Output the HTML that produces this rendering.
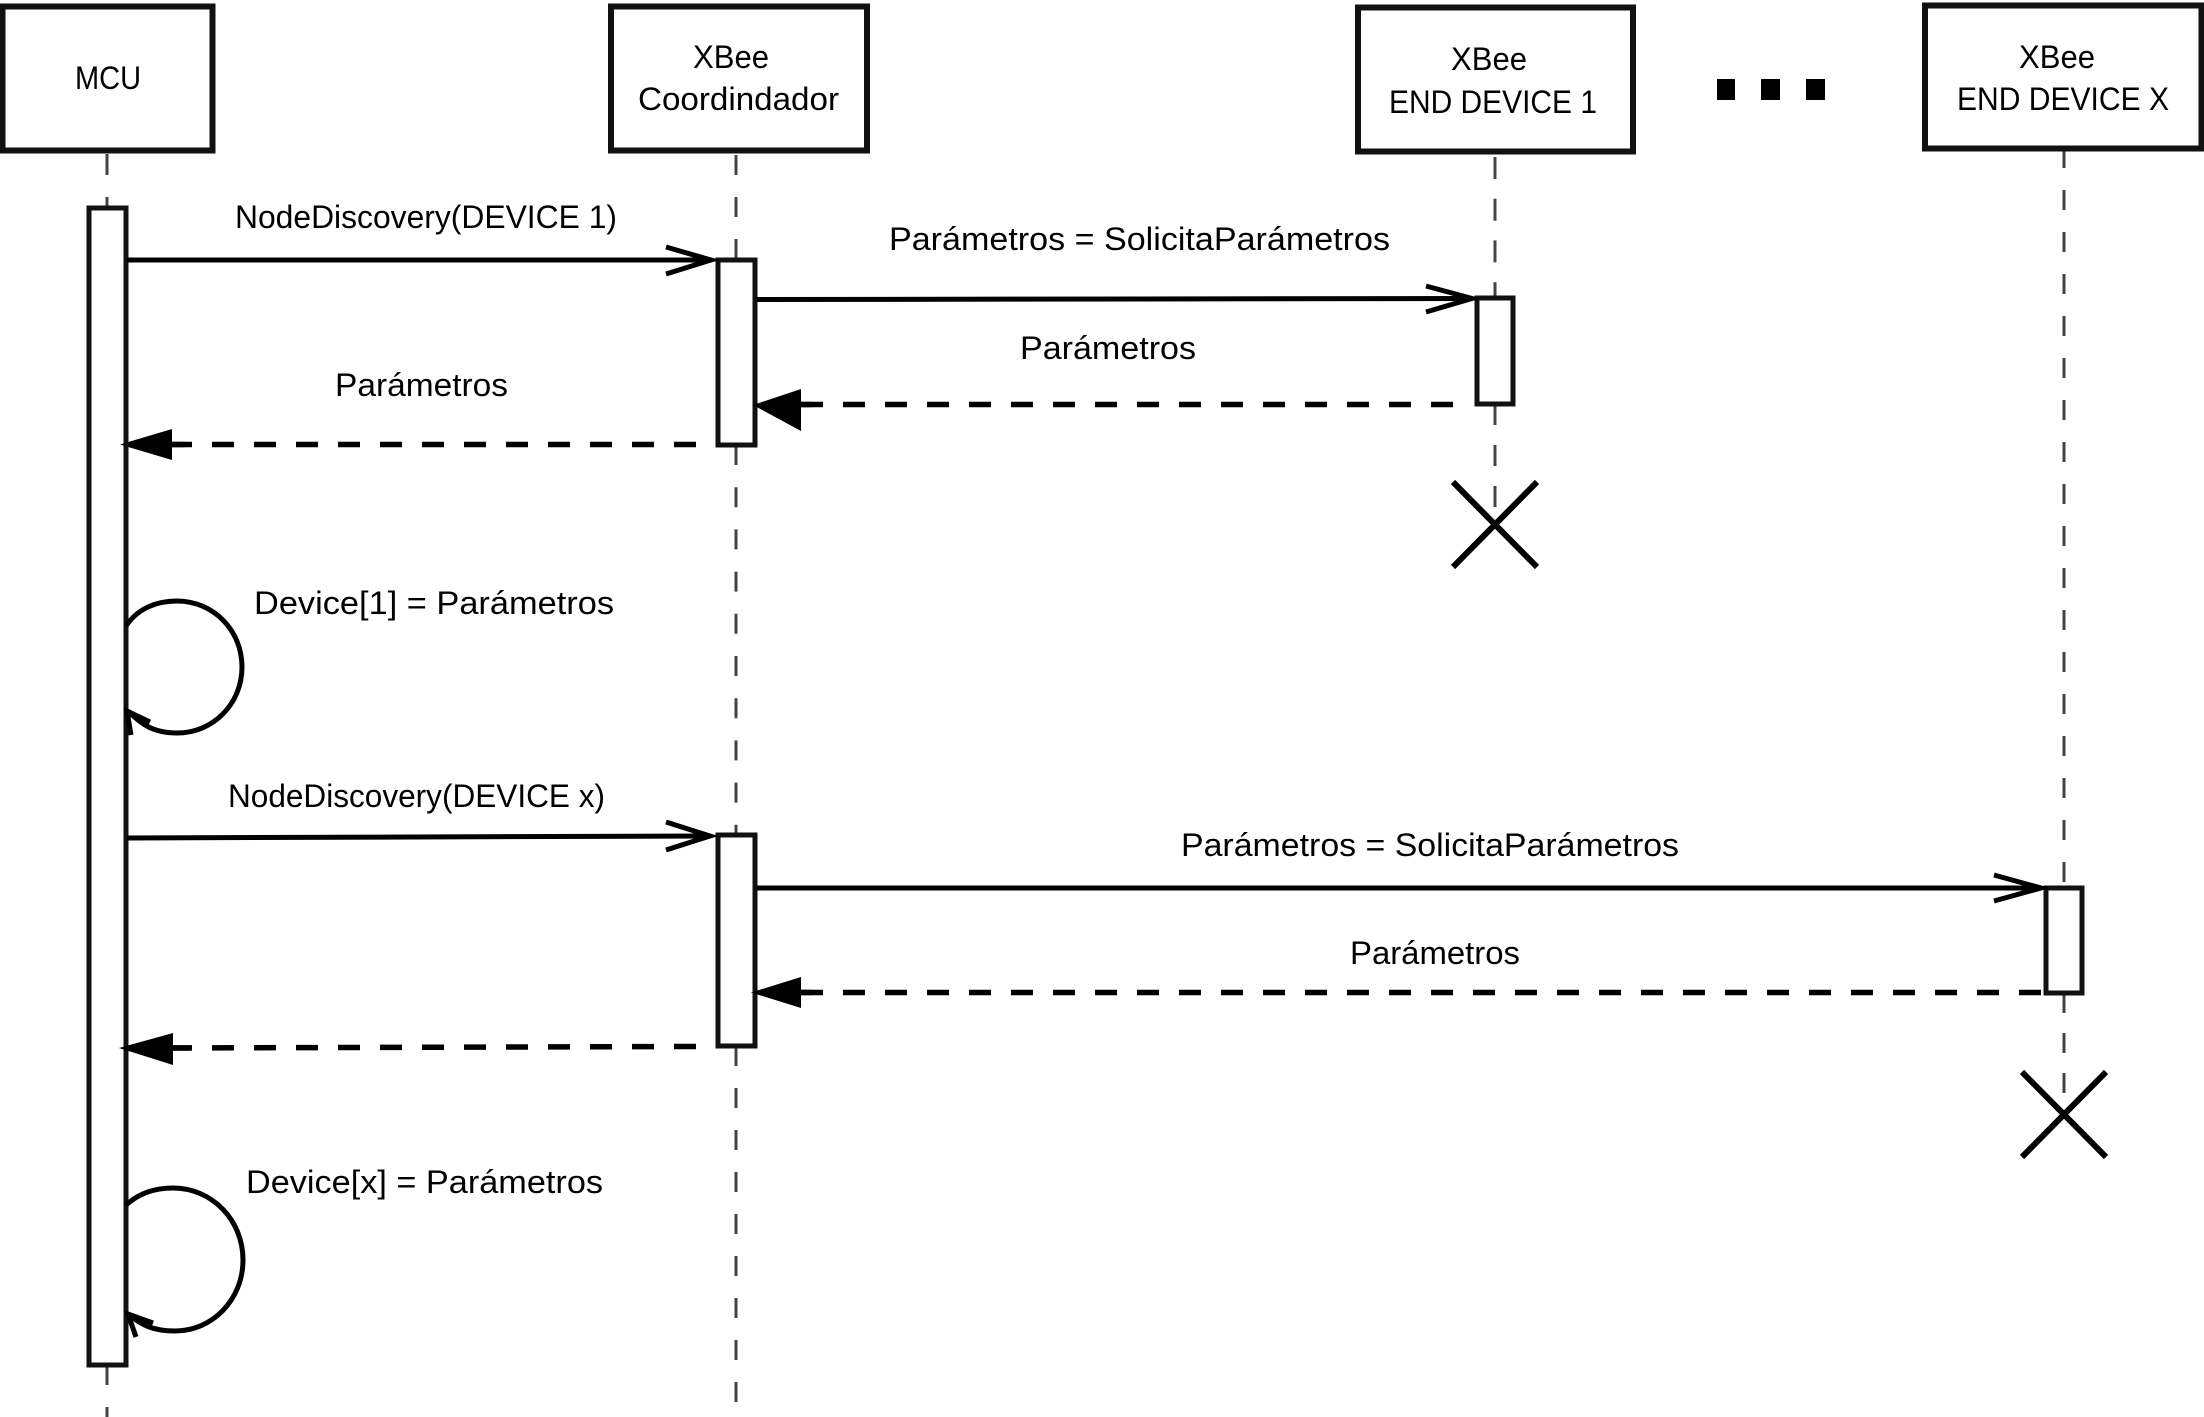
<!DOCTYPE html>
<html>
<head>
<meta charset="utf-8">
<style>
html,body{margin:0;padding:0;background:#fff;width:2204px;height:1417px;overflow:hidden}
svg{display:block}
text{font-family:"Liberation Sans",sans-serif;font-size:32px;fill:#000}
</style>
</head>
<body>
<svg width="2204" height="1417" viewBox="0 0 2204 1417" xmlns="http://www.w3.org/2000/svg">
<rect width="2204" height="1417" fill="#fff"/>

<!-- lifelines -->
<g fill="none" stroke="#444" stroke-width="3">
<line x1="107" y1="154" x2="107" y2="208" stroke-dasharray="21 22"/>
<line x1="107" y1="1367" x2="107" y2="1417" stroke-dasharray="18 22"/>
<line x1="736" y1="155" x2="736" y2="260" stroke-dasharray="20 22"/>
<line x1="736" y1="445" x2="736" y2="835" stroke-dasharray="20 22.2"/>
<line x1="736" y1="1046" x2="736" y2="1417" stroke-dasharray="20 22"/>
<line x1="1495" y1="157" x2="1495" y2="298" stroke-dasharray="22 19.7"/>
<line x1="1495" y1="404" x2="1495" y2="512" stroke-dasharray="21 20"/>
<line x1="2064" y1="148" x2="2064" y2="888" stroke-dasharray="20 22"/>
<line x1="2064" y1="993" x2="2064" y2="1100" stroke-dasharray="20 20"/>
</g>

<!-- participant boxes -->
<g fill="#fff" stroke="#111" stroke-width="6">
<rect x="2.5" y="6.5" width="210" height="144"/>
<rect x="611" y="6.5" width="256" height="144"/>
<rect x="1358" y="7.5" width="275" height="144"/>
<rect x="1925" y="5.5" width="276.5" height="143"/>
</g>

<!-- activations -->
<g fill="#fff" stroke="#111" stroke-width="5">
<rect x="89" y="208" width="37" height="1157"/>
<rect x="718" y="260" width="37" height="185"/>
<rect x="1477" y="298" width="36" height="106"/>
<rect x="718" y="835" width="37" height="211"/>
<rect x="2046" y="888" width="36" height="105"/>
</g>

<!-- sync messages -->
<g fill="none" stroke="#000" stroke-width="5">
<line x1="127" y1="260" x2="708" y2="260"/>
<polyline points="666,247 711,260 666,274"/>
<line x1="757" y1="299.5" x2="1469" y2="298.5"/>
<polyline points="1426,286 1472,298.5 1426,312"/>
<line x1="127" y1="838" x2="706" y2="836"/>
<polyline points="666,822 710,836 666,850"/>
<line x1="757" y1="888" x2="2037" y2="888"/>
<polyline points="1994,875 2041,888 1994,901"/>
</g>

<!-- return messages -->
<g fill="none" stroke="#000" stroke-width="5.5" stroke-dasharray="22 20">
<line x1="696" y1="444.5" x2="165" y2="444.5"/>
<line x1="1453" y1="404.5" x2="795" y2="404.5"/>
<line x1="696" y1="1046.5" x2="165" y2="1048"/>
<line x1="2041" y1="992.5" x2="795" y2="992.5"/>
</g>
<g fill="#000" stroke="none">
<polygon points="753,405 801,389 801,431"/>
<polygon points="120,444.5 172,429 172,460"/>
<polygon points="119,1048 173,1033 173,1065"/>
<polygon points="751,992.5 801,977 801,1008"/>
</g>
<g fill="none" stroke="#000" stroke-width="5.5">
<line x1="800" y1="404.5" x2="812" y2="404.5"/>
<line x1="170" y1="444.5" x2="185" y2="444.5"/>
<line x1="172" y1="1048" x2="190" y2="1048"/>
<line x1="800" y1="992.5" x2="812" y2="992.5"/>
</g>

<!-- self messages -->
<g fill="none" stroke="#000" stroke-width="5">
<path d="M126,626 C138,608 157,601 177,601 C213,601 242,630 242,667 C242,704 213,733 177,733 C153,733 141,724 128,711"/>
<polyline points="131,735 127,711 150,722"/>
<path d="M126,1205 C138,1194 154,1188 173,1188 C212,1188 243,1220 243,1260 C243,1300 212,1331 175,1331 C153,1331 141,1325 128,1314"/>
<polyline points="136,1337 128,1314 153,1323"/>
</g>

<!-- destroy marks -->
<g fill="none" stroke="#000" stroke-width="6">
<line x1="1453" y1="482" x2="1537" y2="567"/>
<line x1="1537" y1="482" x2="1453" y2="567"/>
<line x1="2022" y1="1072" x2="2106" y2="1157"/>
<line x1="2106" y1="1072" x2="2022" y2="1157"/>
</g>

<!-- ellipsis -->
<g fill="#000">
<rect x="1717" y="79" width="18" height="21"/>
<rect x="1761" y="79" width="19" height="21"/>
<rect x="1806" y="79" width="19" height="21"/>
</g>

<!-- labels -->
<text x="75" y="89" textLength="66" lengthAdjust="spacingAndGlyphs">MCU</text>
<text x="693" y="68" textLength="76" lengthAdjust="spacingAndGlyphs">XBee</text>
<text x="638" y="110" textLength="201" lengthAdjust="spacingAndGlyphs">Coordindador</text>
<text x="1451" y="70" textLength="76" lengthAdjust="spacingAndGlyphs">XBee</text>
<text x="1389" y="113" textLength="208" lengthAdjust="spacingAndGlyphs">END DEVICE 1</text>
<text x="2019" y="68" textLength="76" lengthAdjust="spacingAndGlyphs">XBee</text>
<text x="1957" y="110" textLength="212" lengthAdjust="spacingAndGlyphs">END DEVICE X</text>
<text x="235" y="228" textLength="382" lengthAdjust="spacingAndGlyphs">NodeDiscovery(DEVICE 1)</text>
<text x="889" y="250" textLength="501" lengthAdjust="spacingAndGlyphs">Parámetros = SolicitaParámetros</text>
<text x="1020" y="359" textLength="176" lengthAdjust="spacingAndGlyphs">Parámetros</text>
<text x="335" y="396" textLength="173" lengthAdjust="spacingAndGlyphs">Parámetros</text>
<text x="254" y="614" textLength="360" lengthAdjust="spacingAndGlyphs">Device[1] = Parámetros</text>
<text x="228" y="807" textLength="377" lengthAdjust="spacingAndGlyphs">NodeDiscovery(DEVICE x)</text>
<text x="1181" y="856" textLength="498" lengthAdjust="spacingAndGlyphs">Parámetros = SolicitaParámetros</text>
<text x="1350" y="964" textLength="170" lengthAdjust="spacingAndGlyphs">Parámetros</text>
<text x="246" y="1193" textLength="357" lengthAdjust="spacingAndGlyphs">Device[x] = Parámetros</text>
</svg>
</body>
</html>
